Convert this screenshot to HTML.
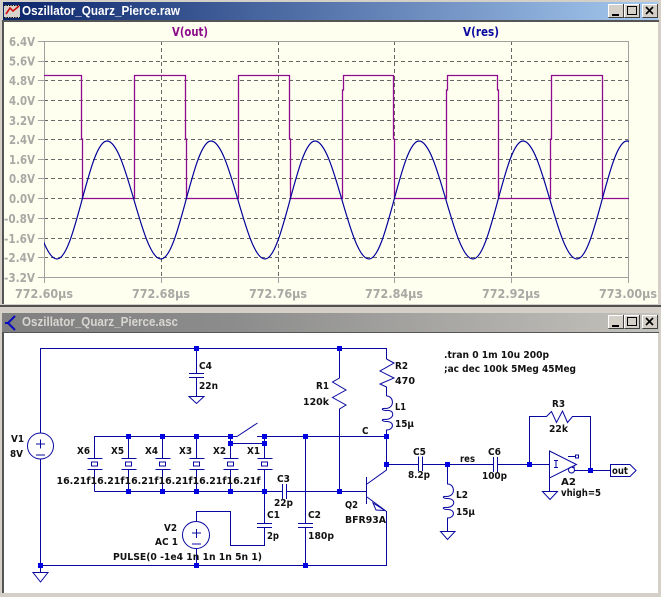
<!DOCTYPE html>
<html><head><meta charset="utf-8"><style>
html,body{margin:0;padding:0;background:#d4d0c8;width:661px;height:597px;overflow:hidden}
svg{display:block}
.p text{font:bold 12.5px "DejaVu Sans",sans-serif;fill:#a8a8a4}
.s text{font:bold 10px "DejaVu Sans",sans-serif;fill:#111}
.w{fill:none;stroke:#0808a0;stroke-width:1}
.t{font:bold 13px "Liberation Sans",sans-serif}
.b{fill:#0000e0}
</style></head><body>
<svg width="661" height="597" viewBox="0 0 661 597" xmlns="http://www.w3.org/2000/svg">
<defs>
<linearGradient id="g1"><stop offset="0" stop-color="#0a246a"/><stop offset="1" stop-color="#a6caf0"/></linearGradient>
<linearGradient id="g2"><stop offset="0" stop-color="#808080"/><stop offset="0.35" stop-color="#8c8c8c"/><stop offset="1" stop-color="#c4c2bc"/></linearGradient>
<clipPath id="pc"><rect x="44" y="41" width="585" height="237"/></clipPath>
<g id="btn"><rect width="15" height="13" fill="#d4d0c8" stroke="#fff" stroke-width="0"/><path d="M0.5 13V.5H15" stroke="#fff" fill="none"/><path d="M.5 13.5H15.5V0" stroke="#404040" fill="none"/></g>
<g id="x"><path class="w" d="M0 -22V0M-7 0H8M-7 11H8M0 11V33"/><rect x="-3" y="3.5" width="6" height="4" fill="none" stroke="#0808a0"/></g>
</defs>
<!-- window 1 -->
<rect x="3" y="2" width="655" height="18" fill="url(#g1)"/>
<rect x="2" y="20" width="657" height="2" fill="#555"/>
<rect x="2" y="22" width="2" height="282" fill="#555"/>
<rect x="4" y="22" width="654" height="282" fill="#fffff0"/>
<rect x="0" y="305" width="661" height="2" fill="#505050"/>
<rect x="4" y="5" width="16" height="13" fill="#d8d4cc"/>
<path d="M6 14L10 8L13 11L19 6" fill="none" stroke="#d01010" stroke-width="1.6"/>
<path d="M4 5.5H20M4 17.5H20" stroke="#111" stroke-dasharray="1.5 1"/>
<text class="t" x="22" y="15" fill="#fff" textLength="158" lengthAdjust="spacingAndGlyphs">Oszillator_Quarz_Pierce.raw</text>
<use href="#btn" x="608" y="4"/><use href="#btn" x="624" y="4"/><use href="#btn" x="642" y="4"/>
<path d="M612 15H619" stroke="#000" stroke-width="2"/><rect x="627.5" y="6.5" width="9" height="8" fill="none" stroke="#000"/><path d="M646 7L653 14M653 7L646 14" stroke="#000" stroke-width="1.6"/>
<!-- plot -->
<g class="p">
<g fill="none" stroke="#666" stroke-dasharray="4 3">
<path d="M44 61.5H628M44 80.5H628M44 100.5H628M44 120.5H628M44 139.5H628M44 159.5H628M44 178.5H628M44 198.5H628M44 218.5H628M44 238.5H628M44 257.5H628"/>
<path d="M161.5 41V277M278.5 41V277M394.5 41V277M511.5 41V277"/>
</g>
<rect x="44.5" y="41.5" width="584" height="236" fill="none" stroke="#a0a0a0"/>
<path stroke="#a0a0a0" fill="none" d="M38 41.5H44M38 61.5H44M38 80.5H44M38 100.5H44M38 120.5H44M38 139.5H44M38 159.5H44M38 178.5H44M38 198.5H44M38 218.5H44M38 238.5H44M38 257.5H44M38 277.5H44M44.5 277V283M161.5 277V283M278.5 277V283M394.5 277V283M511.5 277V283M628.5 277V283"/>
<g clip-path="url(#pc)">
<path fill="none" stroke="#900a90" stroke-width="1.3" d="M44 75.5H81.5V139H82.5V198.5H134.5V75.5H185.5V139H186.5V198.5H238.5V75.5H289.5V139H290.5V198.5H342.5V90H343.5V75.5H393.5V139H394.5V198.5H446.5V90H447.5V75.5H497.5V90H498.5V198.5H550.5V139H551.5V75.5H602.5V198.5H629"/>
<path fill="none" stroke="#00009a" stroke-width="1.2" d="M3 141C22.7 141 37.3 259 57 259C75.2 259 88.8 141 107 141C126.7 141 141.3 259 161 259C179.2 259 192.8 141 211 141C230.7 141 245.3 259 265 259C283.2 259 296.8 141 315 141C334.7 141 349.3 259 369 259C387.2 259 400.8 141 419 141C438.7 141 453.3 259 473 259C491.2 259 504.8 141 523 141C542.7 141 557.3 259 577 259C595.2 259 608.8 141 627 141C646.7 141 661.3 259 681 259"/>
</g>
<text x="9" y="46" textLength="26" lengthAdjust="spacingAndGlyphs">6.4V</text>
<text x="9" y="65.5" textLength="26" lengthAdjust="spacingAndGlyphs">5.6V</text>
<text x="9" y="85" textLength="26" lengthAdjust="spacingAndGlyphs">4.8V</text>
<text x="9" y="105" textLength="26" lengthAdjust="spacingAndGlyphs">4.0V</text>
<text x="9" y="125" textLength="26" lengthAdjust="spacingAndGlyphs">3.2V</text>
<text x="9" y="144" textLength="26" lengthAdjust="spacingAndGlyphs">2.4V</text>
<text x="9" y="164" textLength="26" lengthAdjust="spacingAndGlyphs">1.6V</text>
<text x="9" y="183" textLength="26" lengthAdjust="spacingAndGlyphs">0.8V</text>
<text x="9" y="203" textLength="26" lengthAdjust="spacingAndGlyphs">0.0V</text>
<text x="4" y="223" textLength="31" lengthAdjust="spacingAndGlyphs">-0.8V</text>
<text x="4" y="243" textLength="31" lengthAdjust="spacingAndGlyphs">-1.6V</text>
<text x="4" y="262" textLength="31" lengthAdjust="spacingAndGlyphs">-2.4V</text>
<text x="4" y="282" textLength="31" lengthAdjust="spacingAndGlyphs">-3.2V</text>
<text x="15" y="298" textLength="58" lengthAdjust="spacingAndGlyphs">772.60µs</text>
<text x="132" y="298" textLength="58" lengthAdjust="spacingAndGlyphs">772.68µs</text>
<text x="249" y="298" textLength="58" lengthAdjust="spacingAndGlyphs">772.76µs</text>
<text x="365" y="298" textLength="58" lengthAdjust="spacingAndGlyphs">772.84µs</text>
<text x="482" y="298" textLength="58" lengthAdjust="spacingAndGlyphs">772.92µs</text>
<text x="599" y="298" textLength="58" lengthAdjust="spacingAndGlyphs">773.00µs</text>
<text x="172" y="36" textLength="36" lengthAdjust="spacingAndGlyphs" style="fill:#8a0a8a">V(out)</text>
<text x="463" y="36" textLength="36" lengthAdjust="spacingAndGlyphs" style="fill:#0a0aa0">V(res)</text>
</g>
<!-- window 2 -->
<rect x="2" y="313" width="657" height="19" fill="url(#g2)"/>
<path d="M2 332.5H659" stroke="#555"/>
<rect x="2" y="333" width="2" height="260" fill="#555"/>
<rect x="4" y="333" width="654" height="260" fill="#fff"/>
<path d="M15 316L8 323L15 330M8 323H5" fill="none" stroke="#0808c0" stroke-width="2"/>
<text class="t" x="22" y="326" fill="#d8d6d0" textLength="156" lengthAdjust="spacingAndGlyphs">Oszillator_Quarz_Pierce.asc</text>
<use href="#btn" x="608" y="315"/><use href="#btn" x="624" y="315"/><use href="#btn" x="642" y="315"/>
<path d="M612 326H619" stroke="#000" stroke-width="2"/><rect x="627.5" y="317.5" width="9" height="8" fill="none" stroke="#000"/><path d="M646 318L653 325M653 318L646 325" stroke="#000" stroke-width="1.6"/>
<!-- schematic wires -->
<g class="w">
<path d="M40.5 433V348.5H386.5V359"/>
<path d="M40.5 459V565.5H386.5V511.5L367 497"/>
<circle cx="40.5" cy="446" r="13"/>
<path d="M36 444H45M40.5 439.5V448.5M36 455H45"/>
<path d="M40.5 565.5V572M33 572.5H48L40.5 582Z"/>
<!-- C4 -->
<path d="M196.5 348V373.5M189 373.5H204M189 377.5H204M196.5 377V396.5M189 396.5H204L196.5 403.5Z"/>
<!-- top/bottom crystal buses -->
<path d="M94.5 458V436.5H237M257 436.5H386.5"/>
<path d="M237 436.5L257.5 423M230.5 436.5V443.5H264.5V436.5"/>
<path d="M94.5 491.5H282.5M286.5 491.5H366"/>
<path d="M282.5 484V499M286.5 484V499"/>
<!-- C1 + V2 -->
<path d="M264.5 491V523.5M257 523.5H272M257 527.5H272M264.5 527V545.5H230.5V511.5H196.5V521.5"/>
<circle cx="196" cy="535" r="13.5"/>
<path d="M192 533H201M196.5 529V538M192 544H201M196.5 549V565"/>
<!-- C2 -->
<path d="M305.5 436V523.5M298 523.5H313M298 527.5H313M305.5 527V565"/>
<!-- R1 -->
<path d="M339.5 348V378L332.5 382L346 390L332.5 397.5L346 405L339.5 409V491"/>
<!-- R2 L1 -->
<path d="M386.5 359L394 363L380 371L394 378L380 384L386.5 387V396"/>
<path d="M386.5 396C394 396 395 408 386 408.5C381 408 381 410 386 410.5C395 409 395 419 386 419.5C381 419 381 421 386 421.5C395 421 394 430 386.5 430V470L367 484"/>
<!-- Q2 -->
<path d="M366.5 477V504M373 503L385 510.5L376 510Z"/>
<!-- C5 -->
<path d="M386.5 464.5H418.5M418.5 456.5V471M422.5 456.5V471M422.5 464.5H493.5"/>
<!-- L2 -->
<path d="M447.5 464V484C455 484 456 496 447 496.5C442 496 442 498 447 498.5C456 498 456 507 447 507.5C442 507 442 509 447 509.5C456 509 455 518 447.5 518V531M440.5 531.5H455L447.5 539.5Z"/>
<!-- C6 -->
<path d="M493.5 457V472M497.5 457V472M497.5 464.5H549.5"/>
<!-- R3 -->
<path d="M529.5 464V416.5H546.5L551.5 411.5L556.5 422.5L562.5 411L567.5 422.5L572.5 416.5H590.5V470"/>
<!-- A2 -->
<path d="M549.5 451L576.5 464.5L549.5 478ZM549.5 478V491.5M542.5 491.5H557.5L550 499.5Z"/>
<rect x="575.5" y="455" width="3" height="3"/>
<path d="M568 456.5H575M572 467.5L575 467"/>
<circle cx="571.5" cy="470" r="3"/>
<path d="M574.5 470.5H610M554 460.5H558M554 467.5H558M556 460.5V467.5"/>
<path d="M610.5 464.5H630L636 470.5L630 476.5H610.5Z"/>
</g>
<use href="#x" x="94.5" y="458.5"/>
<use href="#x" x="128.5" y="458.5"/>
<use href="#x" x="162.5" y="458.5"/>
<use href="#x" x="196.5" y="458.5"/>
<use href="#x" x="230.5" y="458.5"/>
<use href="#x" x="264.5" y="458.5"/>
<g class="b">
<rect x="194" y="346" width="5" height="5"/><rect x="337" y="346" width="5" height="5"/>
<rect x="126" y="434" width="5" height="5"/><rect x="160" y="434" width="5" height="5"/><rect x="194" y="434" width="5" height="5"/><rect x="228" y="434" width="5" height="5"/><rect x="262" y="434" width="5" height="5"/><rect x="303" y="434" width="5" height="5"/><rect x="384" y="434" width="5" height="5"/>
<rect x="228" y="441" width="5" height="5"/><rect x="262" y="441" width="5" height="5"/>
<rect x="126" y="489" width="5" height="5"/><rect x="160" y="489" width="5" height="5"/><rect x="194" y="489" width="5" height="5"/><rect x="228" y="489" width="5" height="5"/><rect x="262" y="489" width="5" height="5"/><rect x="337" y="489" width="5" height="5"/>
<rect x="38" y="563" width="5" height="5"/><rect x="194" y="563" width="5" height="5"/><rect x="303" y="563" width="5" height="5"/>
<rect x="384" y="462" width="5" height="5"/><rect x="445" y="462" width="5" height="5"/><rect x="527" y="462" width="5" height="5"/><rect x="588" y="468" width="5" height="5"/>
</g>
<g class="s">
<text x="11" y="442" textLength="13" lengthAdjust="spacingAndGlyphs">V1</text>
<text x="10" y="457" textLength="13" lengthAdjust="spacingAndGlyphs">8V</text>
<text x="199" y="369" textLength="13" lengthAdjust="spacingAndGlyphs">C4</text>
<text x="199" y="389" textLength="19" lengthAdjust="spacingAndGlyphs">22n</text>
<text x="77" y="454" textLength="13" lengthAdjust="spacingAndGlyphs">X6</text>
<text x="111" y="454" textLength="13" lengthAdjust="spacingAndGlyphs">X5</text>
<text x="145" y="454" textLength="13" lengthAdjust="spacingAndGlyphs">X4</text>
<text x="179" y="454" textLength="13" lengthAdjust="spacingAndGlyphs">X3</text>
<text x="213" y="454" textLength="13" lengthAdjust="spacingAndGlyphs">X2</text>
<text x="247" y="454" textLength="13" lengthAdjust="spacingAndGlyphs">X1</text>
<text x="56.5" y="484" textLength="34" lengthAdjust="spacingAndGlyphs">16.21f</text>
<text x="90.5" y="484" textLength="34" lengthAdjust="spacingAndGlyphs">16.21f</text>
<text x="124.5" y="484" textLength="34" lengthAdjust="spacingAndGlyphs">16.21f</text>
<text x="158.5" y="484" textLength="34" lengthAdjust="spacingAndGlyphs">16.21f</text>
<text x="192.5" y="484" textLength="34" lengthAdjust="spacingAndGlyphs">16.21f</text>
<text x="226.5" y="484" textLength="34" lengthAdjust="spacingAndGlyphs">16.21f</text>
<text x="164" y="531" textLength="13" lengthAdjust="spacingAndGlyphs">V2</text>
<text x="155" y="545" textLength="23" lengthAdjust="spacingAndGlyphs">AC 1</text>
<text x="113" y="560" textLength="149" lengthAdjust="spacingAndGlyphs">PULSE(0 -1e4 1n 1n 1n 5n 1)</text>
<text x="277" y="482" textLength="13" lengthAdjust="spacingAndGlyphs">C3</text>
<text x="274" y="506" textLength="19" lengthAdjust="spacingAndGlyphs">22p</text>
<text x="267" y="518" textLength="13" lengthAdjust="spacingAndGlyphs">C1</text>
<text x="267" y="539" textLength="12" lengthAdjust="spacingAndGlyphs">2p</text>
<text x="308" y="518" textLength="13" lengthAdjust="spacingAndGlyphs">C2</text>
<text x="308" y="539" textLength="26" lengthAdjust="spacingAndGlyphs">180p</text>
<text x="316" y="389" textLength="13" lengthAdjust="spacingAndGlyphs">R1</text>
<text x="303" y="405" textLength="26" lengthAdjust="spacingAndGlyphs">120k</text>
<text x="395" y="369" textLength="13" lengthAdjust="spacingAndGlyphs">R2</text>
<text x="395" y="384" textLength="20" lengthAdjust="spacingAndGlyphs">470</text>
<text x="395" y="410" textLength="11" lengthAdjust="spacingAndGlyphs">L1</text>
<text x="395" y="427" textLength="19" lengthAdjust="spacingAndGlyphs">15µ</text>
<text x="362" y="434" textLength="6.5" lengthAdjust="spacingAndGlyphs">C</text>
<text x="413" y="455" textLength="13" lengthAdjust="spacingAndGlyphs">C5</text>
<text x="408" y="478" textLength="22" lengthAdjust="spacingAndGlyphs">8.2p</text>
<text x="345" y="508" textLength="13" lengthAdjust="spacingAndGlyphs">Q2</text>
<text x="345" y="523" textLength="41" lengthAdjust="spacingAndGlyphs">BFR93A</text>
<text x="460" y="462" textLength="15" lengthAdjust="spacingAndGlyphs">res</text>
<text x="488" y="455" textLength="13" lengthAdjust="spacingAndGlyphs">C6</text>
<text x="482" y="479" textLength="25" lengthAdjust="spacingAndGlyphs">100p</text>
<text x="456" y="498" textLength="12" lengthAdjust="spacingAndGlyphs">L2</text>
<text x="456" y="515" textLength="19" lengthAdjust="spacingAndGlyphs">15µ</text>
<text x="552" y="407" textLength="13" lengthAdjust="spacingAndGlyphs">R3</text>
<text x="549" y="432" textLength="19" lengthAdjust="spacingAndGlyphs">22k</text>
<text x="561" y="485" textLength="15" lengthAdjust="spacingAndGlyphs">A2</text>
<text x="561" y="496" textLength="40" lengthAdjust="spacingAndGlyphs">vhigh=5</text>
<text x="612" y="474" textLength="16" lengthAdjust="spacingAndGlyphs">out</text>
<text x="444" y="358" textLength="105" lengthAdjust="spacingAndGlyphs">.tran 0 1m 10u 200p</text>
<text x="444" y="372" textLength="132" lengthAdjust="spacingAndGlyphs">;ac dec 100k 5Meg 45Meg</text>
</g>
</svg>
</body></html>
